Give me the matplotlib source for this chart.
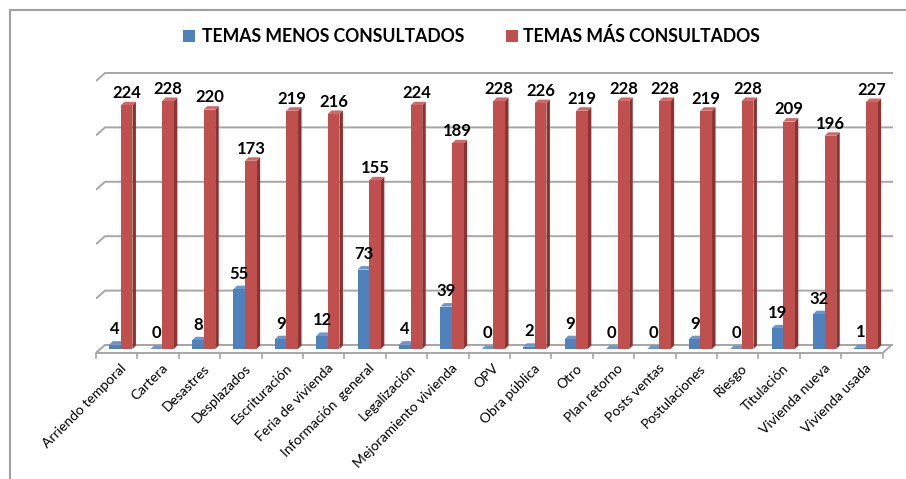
import matplotlib as mpl
mpl.use('Agg')
import matplotlib.pyplot as plt
from matplotlib.patches import Polygon, Rectangle

temas = ['Arriendo temporal', 'Cartera', 'Desastres', 'Desplazados', 'Escrituración',
         'Feria de vivienda', 'Información  general', 'Legalización', 'Mejoramiento vivienda',
         'OPV', 'Obra pública', 'Otro', 'Plan retorno', 'Posts ventas', 'Postulaciones',
         'Riesgo', 'Titulación', 'Vivienda nueva', 'Vivienda usada']
menos = [4, 0, 8, 55, 9, 12, 73, 4, 39, 0, 2, 9, 0, 0, 9, 0, 19, 32, 1]
mas = [224, 228, 220, 173, 219, 216, 155, 224, 189, 228, 226, 219, 228, 228, 219, 228, 209, 196, 227]
grid_vals = [0, 50, 100, 150, 200, 250]

W, H = 906, 479
fig = plt.figure(figsize=(W / 100, H / 100), dpi=100)

# axes box in pixels (left, top, right, bottom)
px_l, px_t, px_r, px_b = 96, 60, 893, 360
ax = fig.add_axes([px_l / W, 1 - px_b / H, (px_r - px_l) / W, (px_b - px_t) / H])
ux = 41.4   # px per category
uy = 1.088  # px per value unit
y0 = 349    # pixel of bar base
ax.set_xlim(-0.5, -0.5 + (px_r - px_l) / ux)
ax.set_ylim(-(px_b - y0) / uy, (y0 - px_t) / uy)
ax.axis('off')

n = len(temas)
ddx, ddy = 9 / ux, 8 / uy          # depth of the floor / walls
gcol = '#A6A6A6'
back = ddy / 2
x_end = -0.5 + (px_r - px_l) / ux

# back wall gridlines with the slanted side segment
for g in grid_vals:
    ax.plot([-0.5, -0.5 + ddx, x_end], [g - back, g + back, g + back],
            color=gcol, lw=1.4, zorder=1, solid_capstyle='butt')

# floor
floor = Polygon([(-0.5, -back), (n - 0.5, -back), (n - 0.5 + ddx, back), (-0.5 + ddx, back)],
                closed=True, facecolor='white', edgecolor=gcol, lw=1.4, zorder=1)
ax.add_patch(floor)
for i in range(n + 1):
    ax.plot([i - 0.5, i - 0.5], [-back, -back - 5 / uy], color=gcol, lw=1.2, zorder=1,
            clip_on=False)

bw = 0.28
bdx, bdy = 3.5 / ux, 3.5 / uy


def bar3d(xc, v, front, side, top):
    x0, x1 = xc - bw / 2, xc + bw / 2
    ax.add_patch(Polygon([(x1, 0), (x1 + bdx, bdy), (x1 + bdx, v + bdy), (x1, v)],
                         closed=True, facecolor=side, edgecolor='none', zorder=3))
    ax.add_patch(Polygon([(x0, v), (x1, v), (x1 + bdx, v + bdy), (x0 + bdx, v + bdy)],
                         closed=True, facecolor=top, edgecolor='none', zorder=3))
    ax.add_patch(Rectangle((x0, 0), bw, v, facecolor=front, edgecolor='none', zorder=3))


for i in range(n):
    xb = i - 0.04
    xr = i + 0.24
    bar3d(xb, menos[i], '#4F81BD', '#345A8A', '#6C96CC')
    bar3d(xr, mas[i], '#C0504D', '#8C3331', '#CF6967')
    ax.annotate(str(menos[i]), (xb, menos[i]), xytext=(0, 5.5), textcoords='offset points',
                ha='center', va='bottom', fontsize=12, fontweight='bold',
                family='Lato', zorder=5)
    ax.annotate(str(mas[i]), (xr, mas[i]), xytext=(0, 3), textcoords='offset points',
                ha='center', va='bottom', fontsize=12, fontweight='bold',
                family='Lato', zorder=5)
    ax.text(i + 0.08, -12, temas[i], rotation=45, ha='right', va='top',
            rotation_mode='anchor', fontsize=10, family='Lato', clip_on=False)

# legend
leg = [('#4F81BD', 'TEMAS MENOS CONSULTADOS', 183, 201.5),
       ('#C0504D', 'TEMAS MÁS CONSULTADOS', 506, 523)]
for col, txt, sq, tx in leg:
    fig.patches.append(Rectangle((sq / W, 1 - 41.7 / H), 12 / W, 11.7 / H,
                                 transform=fig.transFigure, facecolor=col, edgecolor='none'))
    fig.text(tx / W, 1 - 41.7 / H, txt, ha='left', va='baseline', fontsize=12.7,
             fontweight='bold', family='Lato')

# chart frame (only left and top edges visible)
fig.add_artist(plt.Line2D([9.5 / W, 9.5 / W], [0, 1 - 9.5 / H], color='#A0A0A0', lw=1.5,
                          transform=fig.transFigure))
fig.add_artist(plt.Line2D([9.5 / W, 1], [1 - 9.5 / H, 1 - 9.5 / H], color='#A0A0A0', lw=1.5,
                          transform=fig.transFigure))

fig.savefig('out.png', dpi=100)
